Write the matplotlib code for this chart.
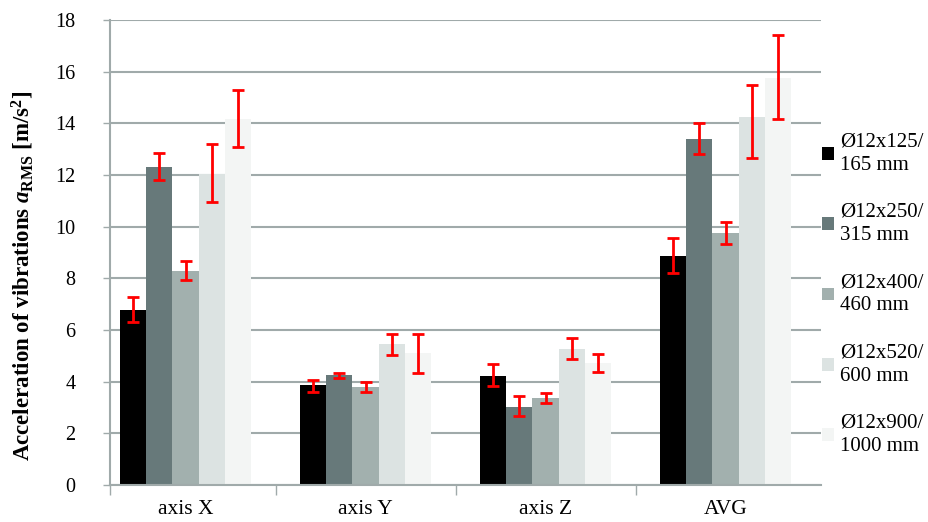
import numpy as np
import matplotlib
matplotlib.use("Agg")
import matplotlib.pyplot as plt
from matplotlib.patches import Rectangle
from matplotlib.legend_handler import HandlerPatch

plt.rcParams['font.family'] = ['Liberation Serif', 'DejaVu Serif']
plt.rcParams['mathtext.fontset'] = 'custom'
plt.rcParams['mathtext.rm'] = 'Liberation Serif:bold'
plt.rcParams['mathtext.it'] = 'Liberation Serif:italic:bold'
plt.rcParams['mathtext.bf'] = 'Liberation Serif:bold'

groups = ["axis X", "axis Y", "axis Z", "AVG"]
labels = ["Ø12x125/\n165 mm", "Ø12x250/\n315 mm", "Ø12x400/\n460 mm",
          "Ø12x520/\n600 mm", "Ø12x900/\n1000 mm"]
colors = ["#000000", "#67797a", "#a2b0ae", "#dce3e2", "#f3f5f4"]

# mean values per tool (rows) for axis X, Y, Z, AVG
means = [
    [6.77, 3.86, 4.23, 8.87],
    [12.30, 4.25, 3.03, 13.38],
    [8.30, 3.79, 3.38, 9.74],
    [12.04, 5.45, 5.27, 14.23],
    [14.17, 5.10, 4.73, 15.77],
]
# centre of the error bars
err_mid = [
    [6.80, 3.84, 4.27, 8.90],
    [12.34, 4.23, 3.07, 13.40],
    [8.31, 3.79, 3.38, 9.75],
    [12.08, 5.45, 5.29, 14.07],
    [14.20, 5.10, 4.72, 15.79],
]
errs = [
    [0.49, 0.23, 0.43, 0.68],
    [0.53, 0.10, 0.39, 0.60],
    [0.36, 0.19, 0.19, 0.42],
    [1.12, 0.40, 0.41, 1.42],
    [1.10, 0.75, 0.34, 1.63],
]

fig = plt.figure(figsize=(9.29, 5.22), dpi=100)
ax = fig.add_axes([110/929, 1-485/522, (821-110)/929, (485-20)/522])

x = np.arange(len(groups))
w = 0.146
for i in range(len(labels)):
    pos = x + (i - 2) * w
    ax.bar(pos, means[i], w, color=colors[i], label=labels[i], zorder=2)
    ax.errorbar(pos, err_mid[i], yerr=errs[i], fmt='none', ecolor='#ff0000',
                elinewidth=2, capsize=4.5, capthick=2, zorder=3)

ax.set_ylim(0, 18)
ax.set_yticks(np.arange(0, 19, 2))
ax.set_xlim(-0.42, 3.53)
ax.yaxis.grid(True, color='#a0aaaa', linewidth=1.5, zorder=0)
ax.set_axisbelow(True)

# group boundary ticks, labels at group centres
ax.set_xticks([-0.42, 0.5, 1.5, 2.5])
ax.set_xticklabels([])
ax.set_xticks(x, minor=True)
ax.set_xticklabels(groups, minor=True, fontsize=15.5)
ax.tick_params(axis='x', which='major', length=7, color='#a0aaaa', width=1)
ax.tick_params(axis='x', which='minor', length=0, pad=11)
ax.tick_params(axis='y', length=5, color='#a0aaaa', width=1, pad=20, labelsize=14.5)

for s in ['top', 'right']:
    ax.spines[s].set_visible(False)
ax.spines['left'].set_color('#a0aaaa')
ax.spines['left'].set_linewidth(1.5)
ax.spines['bottom'].set_color('#a0aaaa')
ax.spines['bottom'].set_linewidth(1.5)

ax.set_ylabel(r"Acceleration of vibrations $a_{\mathrm{RMS}}$ [m/s$^{2}$]",
              fontsize=16.5, fontweight='bold')
ax.yaxis.set_label_coords(-0.104, 0.45)


def top_square(legend, orig_handle, xdescent, ydescent, width, height, fontsize):
    # square next to the first line of the two-line label
    return Rectangle((-xdescent, -ydescent + 0.68 * fontsize), width, height)


leg = fig.legend(loc='upper left', bbox_to_anchor=(0.885, 0.746), frameon=False,
                 fontsize=15, handlelength=0.55, handleheight=0.55,
                 handletextpad=0.3, labelspacing=1.35, borderpad=0,
                 borderaxespad=0,
                 handler_map={Rectangle: HandlerPatch(patch_func=top_square)})
for t in leg.get_texts():
    t.set_linespacing(1.3)

fig.savefig("out.png", dpi=100)
